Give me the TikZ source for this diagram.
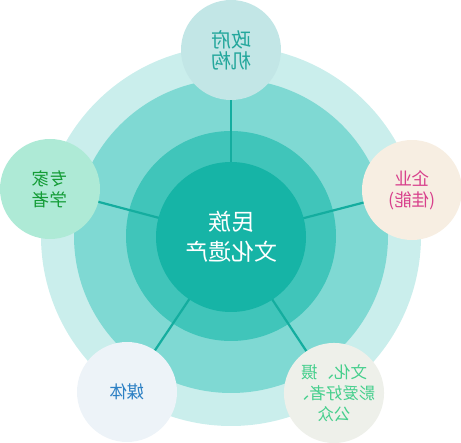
\documentclass[tikz,border=0pt]{standalone}
\usepackage{graphicx}
\usepackage{fontspec}
\newfontfamily\cjk{Noto Sans CJK SC}
\usetikzlibrary{backgrounds}
\definecolor{ringA}{HTML}{CAEEEC}
\definecolor{ringB}{HTML}{7FD9D3}
\definecolor{ringC}{HTML}{40C5BA}
\definecolor{ringD}{HTML}{16B4A6}
\definecolor{spokec}{HTML}{14AD9F}
\definecolor{topfill}{HTML}{C2E6E6}\definecolor{toptext}{HTML}{24A79C}
\definecolor{leftfill}{HTML}{AEEAD6}\definecolor{lefttext}{HTML}{139C36}
\definecolor{rightfill}{HTML}{F7EEE2}\definecolor{righttext}{HTML}{D8408C}
\definecolor{blfill}{HTML}{EDF3F8}\definecolor{bltext}{HTML}{2D80C4}
\definecolor{brfill}{HTML}{EEF0EA}\definecolor{brtext}{HTML}{46CF8D}
\newcommand{\mir}[1]{\reflectbox{#1}}
\tikzset{
  ring/.style={circle, inner sep=0pt, draw=none},
  sat/.style={circle, inner sep=0pt, minimum size=100pt, align=center,
    font=\cjk\fontsize{17.5pt}{21pt}\selectfont},
  spoke/.style={draw=spokec, line width=2.2pt}
}
\begin{document}
\begin{tikzpicture}[x=1pt,y=-1pt]
\useasboundingbox (0,0) rectangle (461,443);
\node[ring, fill=ringD, minimum size=150pt, text=white, align=center,
  font=\cjk\fontsize{23pt}{30pt}\selectfont] (core) at (231,237) {\mir{民族}\\\mir{文化遗产}};
\node[sat, fill=topfill, text=toptext, font=\cjk\fontsize{20pt}{21pt}\selectfont] (gov) at (231,50) {\mir{政府}\\\mir{机构}};
\node[sat, fill=leftfill, text=lefttext] (exp) at (50,189) {\mir{专家}\\\mir{学者}};
\node[sat, fill=rightfill, text=righttext] (ent) at (412,190) {\mir{企业}\\\mir{(佳能)}};
\node[sat, fill=blfill, text=bltext] (med) at (127,392) {\mir{媒体}};
\node[sat, fill=brfill, text=brtext, font=\cjk\fontsize{16.5pt}{21pt}\selectfont] (pub) at (334,393) {\mir{文化、摄}\\\mir{影爱好者、}\\\mir{公众}};
\begin{pgfonlayer}{background}
\node[ring, fill=ringA, minimum size=380pt] (r1) at (231,236) {};
\node[ring, fill=ringB, minimum size=314pt] (r2) at (231,236) {};
\node[ring, fill=ringC, minimum size=210pt] (r3) at (231,236) {};
\draw[spoke] (core.center) -- (gov.center);
\draw[spoke] (core.center) -- (exp.center);
\draw[spoke] (core.center) -- (ent.center);
\draw[spoke] (core.center) -- (med.center);
\draw[spoke] (core.center) -- (pub.center);
\end{pgfonlayer}
\end{tikzpicture}
\end{document}
